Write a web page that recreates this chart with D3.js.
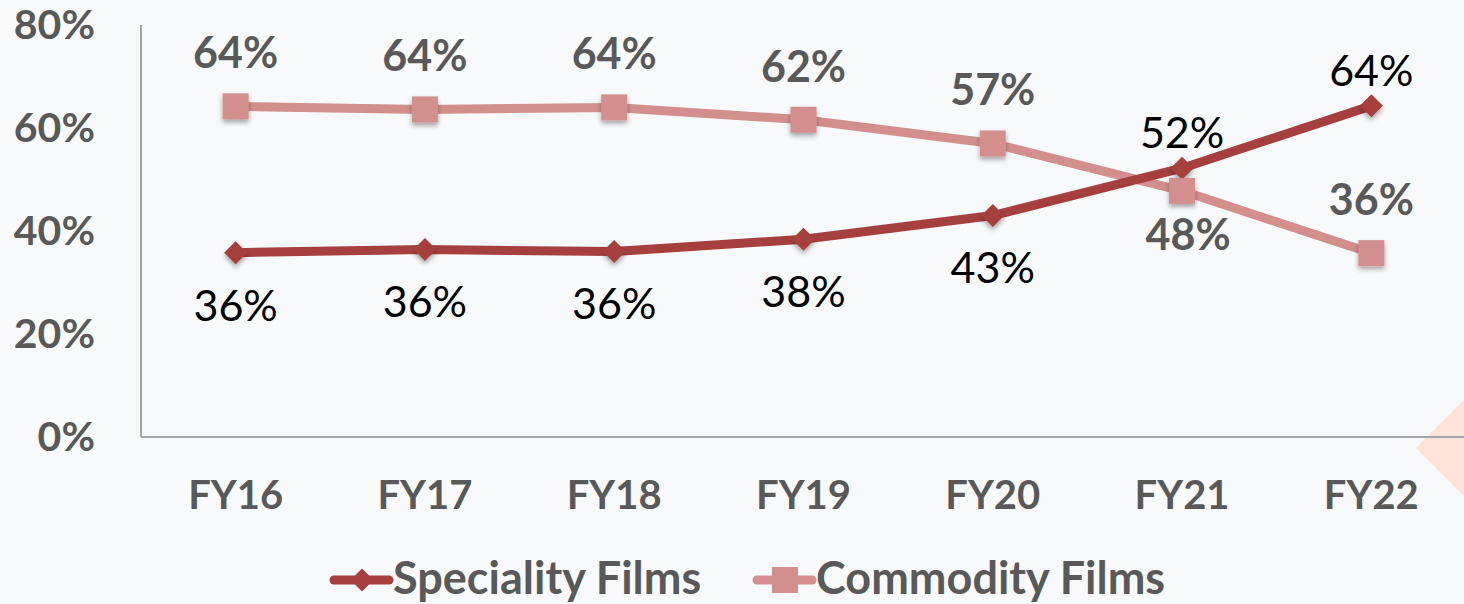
<!DOCTYPE html>
<html>
<head>
<meta charset="utf-8">
<script src="https://cdn.jsdelivr.net/npm/d3@7"></script>
<style>
  html, body { margin: 0; padding: 0; background: #f8f9fb; }
  svg { display: block; font-family: Lato, "Open Sans", sans-serif; }
</style>
</head>
<body>
<div id="chart"></div>
<script>
const years = ['FY16', 'FY17', 'FY18', 'FY19', 'FY20', 'FY21', 'FY22']
const speciality = [35.8, 36.4, 36.0, 38.4, 43.0, 52.2, 64.3]
const commodity = [64.2, 63.6, 64.0, 61.6, 57.0, 47.8, 35.7]
const yTicks = [0, 20, 40, 60, 80]
// label placement: above or below the point
const specialityPos = ['below', 'below', 'below', 'below', 'below', 'above', 'above']
const commodityPos = ['above', 'above', 'above', 'above', 'above', 'below', 'above']

const width = 1464, height = 604
const margin = {top: 25, right: -2, bottom: 167, left: 141}

const svg = d3.select('#chart').append('svg')
    .attr('width', width)
    .attr('height', height)

const defs = svg.append('defs')
const shadow = defs.append('filter').attr('id', 'shadow')
    .attr('x', '-50%').attr('y', '-50%').attr('width', '200%').attr('height', '200%')
shadow.append('feDropShadow')
    .attr('dx', 0).attr('dy', 3).attr('stdDeviation', 2.5)
    .attr('flood-color', '#000').attr('flood-opacity', 0.35)

// faint decoration at the right edge
svg.append('path')
    .attr('d', 'M1472,392 L1416,448 L1472,504 Z')
    .attr('fill', '#fde3da')

const x = d3.scaleBand()
    .domain(years)
    .range([margin.left, width - margin.right])

const y = d3.scaleLinear()
    .domain([0, 80])
    .range([height - margin.bottom, margin.top])

// axes
svg.append('line')
    .attr('x1', margin.left).attr('x2', margin.left)
    .attr('y1', y(80)).attr('y2', y(0))
    .attr('stroke', '#a6a6a6').attr('stroke-width', 2)
svg.append('line')
    .attr('x1', margin.left).attr('x2', width)
    .attr('y1', y(0)).attr('y2', y(0))
    .attr('stroke', '#a6a6a6').attr('stroke-width', 2)

svg.append('g').selectAll('text')
    .data(yTicks)
    .join('text')
    .attr('x', 95)
    .attr('y', d => y(d) + 3)
    .attr('text-anchor', 'end')
    .attr('dominant-baseline', 'middle')
    .attr('font-size', 41)
    .attr('font-weight', 'bold')
    .attr('fill', '#595959')
    .text(d => d + '%')

svg.append('g').selectAll('text')
    .data(years)
    .join('text')
    .attr('x', d => x(d) + x.bandwidth() / 2)
    .attr('y', 499)
    .attr('text-anchor', 'middle')
    .attr('dominant-baseline', 'middle')
    .attr('font-size', 40)
    .attr('font-weight', 'bold')
    .attr('fill', '#595959')
    .text(d => d)

const series = [
    {name: 'Speciality Films', values: speciality, color: '#a5403e', marker: 'diamond',
     pos: specialityPos, labelColor: '#000', labelWeight: 'normal'},
    {name: 'Commodity Films', values: commodity, color: '#d38e8e', marker: 'square',
     pos: commodityPos, labelColor: '#595959', labelWeight: 'bold'},
]

const line = d3.line()
    .x((d, i) => x(years[i]) + x.bandwidth() / 2)
    .y(d => y(d))

const markerPath = (type) => type === 'diamond'
    ? 'M0,-11.5 L11.5,0 L0,11.5 L-11.5,0 Z'
    : 'M-13,-13 L13,-13 L13,13 L-13,13 Z'

series.slice().reverse().forEach(s => {
    svg.append('path')
        .datum(s.values)
        .attr('d', line)
        .attr('fill', 'none')
        .attr('stroke', s.color)
        .attr('stroke-width', 9)
})

series.forEach(s => {
    svg.append('g').selectAll('path')
        .data(s.values)
        .join('path')
        .attr('transform', (d, i) => `translate(${x(years[i]) + x.bandwidth() / 2},${y(d)})`)
        .attr('d', markerPath(s.marker))
        .attr('fill', s.color)
        .attr('filter', 'url(#shadow)')
})

series.forEach(s => {
    svg.append('g').selectAll('text')
        .data(s.values)
        .join('text')
        .attr('x', (d, i) => x(years[i]) + x.bandwidth() / 2 + (s.pos[i] === 'below' && s.marker === 'square' ? 6 : 0))
        .attr('y', (d, i) => {
            const p = s.pos[i]
            if (s.marker === 'diamond') return y(d) + (p === 'below' ? 57 : -31)
            return y(d) + (p === 'below' ? 48 : -49)
        })
        .attr('text-anchor', 'middle')
        .attr('dominant-baseline', 'middle')
        .attr('font-size', 43)
        .attr('font-weight', s.labelWeight)
        .attr('fill', s.labelColor)
        .text(d => Math.round(d) + '%')
})

// legend
const legendItems = [
    {s: series[0], x: 331},
    {s: series[1], x: 754},
]
legendItems.forEach(item => {
    const g = svg.append('g').attr('transform', `translate(${item.x},580)`)
    g.append('line')
        .attr('x1', 3).attr('x2', 58)
        .attr('stroke', item.s.color).attr('stroke-width', 9)
        .attr('stroke-linecap', 'round')
    g.append('path')
        .attr('transform', 'translate(31,0)')
        .attr('d', markerPath(item.s.marker))
        .attr('fill', item.s.color)
    g.append('text')
        .attr('x', 62)
        .attr('y', 2)
        .attr('dominant-baseline', 'middle')
        .attr('font-size', 45)
        .attr('font-weight', 'bold')
        .attr('fill', '#595959')
        .text(item.s.name)
})
</script>
</body>
</html>
